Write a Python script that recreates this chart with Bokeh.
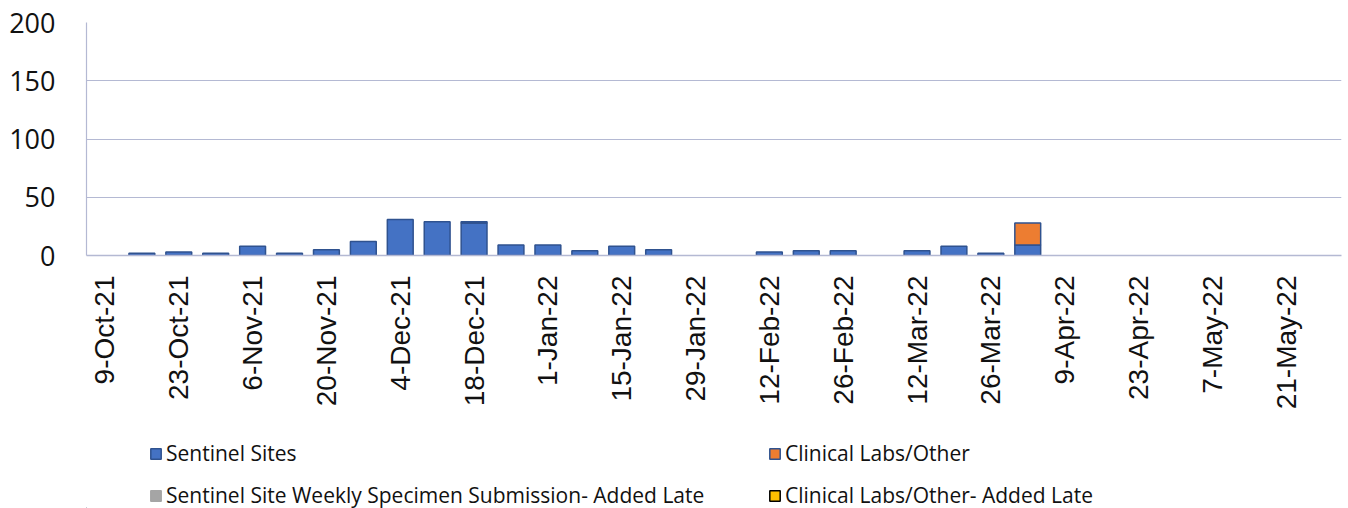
import math
from bokeh.plotting import figure
from bokeh.layouts import column
from bokeh.models import Range1d, ColumnDataSource, Legend, LegendItem, FixedTicker
from bokeh.embed import file_html
from bokeh.resources import INLINE

weeks = ["9-Oct-21", "16-Oct-21", "23-Oct-21", "30-Oct-21", "6-Nov-21", "13-Nov-21",
         "20-Nov-21", "27-Nov-21", "4-Dec-21", "11-Dec-21", "18-Dec-21", "25-Dec-21",
         "1-Jan-22", "8-Jan-22", "15-Jan-22", "22-Jan-22", "29-Jan-22", "5-Feb-22",
         "12-Feb-22", "19-Feb-22", "26-Feb-22", "5-Mar-22", "12-Mar-22", "19-Mar-22",
         "26-Mar-22", "2-Apr-22", "9-Apr-22", "16-Apr-22", "23-Apr-22", "30-Apr-22",
         "7-May-22", "14-May-22", "21-May-22", "28-May-22"]
sentinel = [0, 2, 3, 2, 8, 2, 5, 12, 31, 29, 28, 9, 9, 4, 8, 5, 0, 0, 3, 4, 4, 0, 4, 8,
            2, 9, 0, 0, 0, 0, 0, 0, 0, 0]
clinical = [0] * 25 + [19] + [0] * 8
sentinel_late = [0] * 10 + [1] + [0] * 23
clinical_late = [0] * 34

series = ["Sentinel Sites", "Clinical Labs/Other",
          "Sentinel Site Weekly Specimen Submission- Added Late",
          "Clinical Labs/Other- Added Late"]
values = [sentinel, clinical, sentinel_late, clinical_late]
colors = ["#4472C4", "#ED7D31", "#A5A5A5", "#FFC000"]
legend_borders = ["#2F528F", "#2F528F", "#A5A5A5", "#000000"]
y_ticks = [0, 50, 100, 150, 200]

p = figure(x_range=Range1d(-0.5, len(weeks) - 0.5), y_range=Range1d(0, 200),
           width=1348, height=427, output_backend="svg", toolbar_location=None,
           min_border_left=86, min_border_right=7, min_border_top=22, min_border_bottom=172)

base = [0] * len(weeks)
for vals, col in zip(values, colors):
    xs, bots, tops = [], [], []
    for i, v in enumerate(vals):
        if v > 0:
            xs.append(i)
            bots.append(base[i])
            tops.append(base[i] + v)
    src = ColumnDataSource(dict(x=xs, bottom=bots, top=tops))
    p.vbar(x="x", bottom="bottom", top="top", width=0.7, source=src,
           fill_color=col, line_color="#2F528F", line_width=1.5)
    base = [b + v for b, v in zip(base, vals)]

grid_c = "#B4B9D3"
p.outline_line_color = None
p.xgrid.grid_line_color = None
p.ygrid.grid_line_color = grid_c
p.ygrid.grid_line_width = 1.2
p.yaxis.ticker = FixedTicker(ticks=y_ticks)
p.yaxis.axis_line_color = grid_c
p.yaxis.axis_line_width = 1.2
p.yaxis.major_tick_line_color = None
p.yaxis.minor_tick_line_color = None
p.yaxis.major_label_text_font = "Open Sans"
p.yaxis.major_label_text_font_size = "27px"
p.yaxis.major_label_text_color = "#111111"
p.yaxis.major_label_standoff = 25

tick_idx = list(range(0, len(weeks), 2))
p.xaxis.ticker = FixedTicker(ticks=tick_idx)
p.xaxis.major_label_overrides = {i: weeks[i] for i in tick_idx}
p.xaxis.axis_line_color = grid_c
p.xaxis.axis_line_width = 1.5
p.xaxis.major_tick_line_color = None
p.xaxis.minor_tick_line_color = None
p.xaxis.major_tick_in = 0
p.xaxis.major_tick_out = 0
p.xaxis.major_label_orientation = math.pi / 2
p.xaxis.major_label_text_font = "Liberation Sans"
p.xaxis.major_label_text_font_size = "28px"
p.xaxis.major_label_text_color = "#111111"
p.xaxis.major_label_standoff = 20

# legend strip below the chart
lf = figure(width=1348, height=81, output_backend="svg", toolbar_location=None,
            x_range=Range1d(0, 1), y_range=Range1d(0, 1), x_axis_type=None, y_axis_type=None,
            min_border=0, outline_line_color=None)
lf.xgrid.grid_line_color = None
lf.ygrid.grid_line_color = None
proxies = []
for col, lc in zip(colors, legend_borders):
    # legend swatch carriers, placed far outside the visible ranges
    proxies.append(lf.vbar(x=[-100], bottom=[-100], top=[-99], width=0.1, fill_color=col,
                           line_color=lc, line_width=1.5))

def make_legend(idx, loc):
    items = [LegendItem(label=series[i], renderers=[proxies[i]]) for i in idx]
    return Legend(items=items, location=loc, orientation="vertical",
                  glyph_width=13, glyph_height=13, label_standoff=4,
                  label_text_font="Open Sans", label_text_font_size="21px",
                  label_text_color="#111111", label_height=22, spacing=14,
                  padding=0, margin=0, border_line_color=None, background_fill_alpha=0)

lf.add_layout(make_legend([0, 2], (63, -1)))
lf.add_layout(make_legend([1, 3], (682, -1)))

layout = column(p, lf, spacing=0)
open("out.html", "w").write(file_html(layout, INLINE))
